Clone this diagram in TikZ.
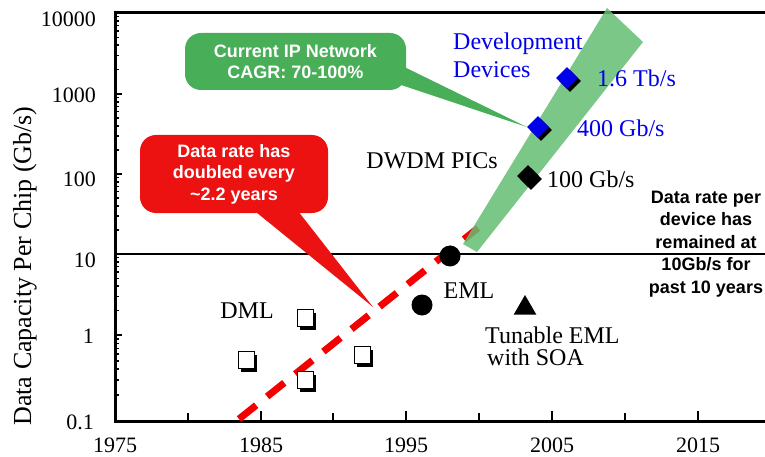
\documentclass[tikz,border=0pt]{standalone}
\usepackage{fontspec}
\setmainfont{Liberation Serif}
\setsansfont{Liberation Sans}
\usetikzlibrary{shapes.geometric,shadows,calc}

\definecolor{bandgreen}{RGB}{100,190,115}
\definecolor{boxgreen}{RGB}{72,174,88}
\definecolor{boxred}{RGB}{236,18,18}
\definecolor{trendred}{RGB}{245,0,0}
\definecolor{devblue}{RGB}{0,0,235}

\tikzset{
  axisline/.style={line width=3pt},
  tickmark/.style={line width=1.5pt},
  ticklabel/.style={font=\fontsize{22}{26}\selectfont, inner sep=0pt},
  serifnote/.style={font=\fontsize{24}{22}\selectfont, inner sep=0pt, align=left},
  bluenote/.style={serifnote, text=devblue},
  calloutbox/.style={rounded corners=16pt, text=white,
    font=\sffamily\bfseries\fontsize{18}{21.5}\selectfont, align=center, inner sep=0pt},
  shadowed/.style={drop shadow={shadow xshift=3pt, shadow yshift=-3pt, fill=black, opacity=1}},
  devdiamond/.style={diamond, inner sep=0pt, minimum width=22pt, minimum height=22pt, shadowed},
  dmlsquare/.style={rectangle, draw=black, line width=0.8pt, fill=white, inner sep=0pt,
    minimum width=16pt, minimum height=17pt, shadowed},
  emldot/.style={circle, fill=black, inner sep=0pt, minimum size=21pt},
}

\begin{document}
\begin{tikzpicture}[x=1pt,y=-1pt]
\useasboundingbox (0,0) rectangle (765,457);
\fill[white] (0,0) rectangle (765,457);

% 10 Gb/s reference line and plot frame
\draw[line width=2pt] (115,254) -- (765,254);
\draw[line width=3pt] (113.5,13) -- (765,13);
\draw[axisline, line join=miter] (115,11.5) -- (115,421) -- (765,421);

% logarithmic ticks on the capacity axis
\foreach \ylo/\yhi in {421/335, 335/254, 254/174, 174/94, 94/13} {
  \draw[tickmark] (115,\ylo) -- ++(7,0);
  \foreach \m in {2,...,9} {
    \draw[tickmark] (115,{\ylo-log10(\m)*(\ylo-\yhi)}) -- ++(4,0);
  }
}
\draw[tickmark] (115,13) -- ++(7,0);

% year ticks
\foreach \x/\len in {188/8, 261/10, 333/8, 406/10, 479/8, 552/10, 625/8, 698/10}
  \draw[line width=2pt] (\x,421) -- ++(0,-\len);

% axis labels
\node[ticklabel, anchor=base east] (y10000) at (96,27) {10000};
\node[ticklabel, anchor=base east] (y1000) at (96,103) {1000};
\node[ticklabel, anchor=base east] (y100) at (96,186) {100};
\node[ticklabel, anchor=base east] (y10) at (96,267) {10};
\node[ticklabel, anchor=base east] (y1) at (94,343) {1};
\node[ticklabel, anchor=base east] (y01) at (94,429) {0.1};

\node[ticklabel, anchor=base] (x1975) at (115,452) {1975};
\node[ticklabel, anchor=base] (x1985) at (261,452) {1985};
\node[ticklabel, anchor=base] (x1995) at (406,452) {1995};
\node[ticklabel, anchor=base] (x2005) at (552,452) {2005};
\node[ticklabel, anchor=base] (x2015) at (698,452) {2015};

\node[rotate=90, font=\fontsize{26}{30}\selectfont, inner sep=0pt] (ytitle) at (25,266)
  {Data Capacity Per Chip (Gb/s)};

% historical trend (dashed) and current growth band
\coordinate (trendlow) at (239,419);
\coordinate (trendhigh) at (478,228);
\draw[trendred, line width=7pt, dash pattern=on 22pt off 14pt] (trendlow) -- (trendhigh);
\fill[bandgreen, opacity=0.85] (607,8) -- (643,42) -- (477,252) -- (463,244) -- cycle;

% device data points
\node[dmlsquare] (sqa) at (246,360) {};
\node[dmlsquare] (sqb) at (305,318) {};
\node[dmlsquare] (sqc) at (305,380) {};
\node[dmlsquare] (sqd) at (362,355) {};
\node[emldot] (emla) at (422,305) {};
\node[emldot] (emlb) at (450,256) {};
\node[regular polygon, regular polygon sides=3, fill=black, inner sep=0pt, minimum size=26pt] (tunable) at (525,308) {};
\node[devdiamond, fill=black] (d100) at (528,176) {};
\node[devdiamond, fill=devblue] (d400) at (538,127) {};
\node[devdiamond, fill=devblue] (d1600) at (567,78) {};

% point labels (multi-line labels are anchored on their last baseline)
\node[serifnote, anchor=base] (dml) at (247,318) {DML};
\node[serifnote, anchor=base] (eml) at (469,298) {EML};
\node[serifnote, anchor=base west] (tunlabel) at (485,365) {Tunable EML\\\hspace*{2pt}with SOA};
\node[serifnote, anchor=base east] (dwdm) at (498,168) {DWDM PICs};
\node[serifnote, anchor=base west] (l100) at (547,187) {100 Gb/s};
\node[bluenote, anchor=base west] (l400) at (577,137) {400 Gb/s};
\node[bluenote, anchor=base west] (l1600) at (597,87) {1.6 Tb/s};
\node[bluenote, anchor=base west, font=\fontsize{24}{28}\selectfont] (devlabel) at (453,78) {Development\\Devices};

% callouts
\node[calloutbox, fill=boxgreen, minimum width=221pt, minimum height=57pt] (ipbox) at (295.5,61.5)
  {Current IP Network\\CAGR: 70-100\%};
\fill[boxgreen] ($(ipbox.east)+(-8,2.5)$) -- (d400.west) -- ($(ipbox.east)+(-8,22.5)$) -- cycle;

\node[calloutbox, fill=boxred, minimum width=188pt, minimum height=78pt] (ratebox) at (234,174)
  {Data rate has\\doubled every\\\textasciitilde2.2 years};
\coordinate (ratetip) at (373,307);
\fill[boxred] ($(ratebox.south)+(16,-6)$) -- (ratetip) -- ($(ratebox.south)+(61,-6)$) -- cycle;

\node[font=\sffamily\bfseries\fontsize{18}{22.5}\selectfont, align=center, inner sep=0pt] (flatnote) at (706,244)
  {Data rate per\\device has\\remained at\\10Gb/s for\\past 10 years};
\end{tikzpicture}
\end{document}
